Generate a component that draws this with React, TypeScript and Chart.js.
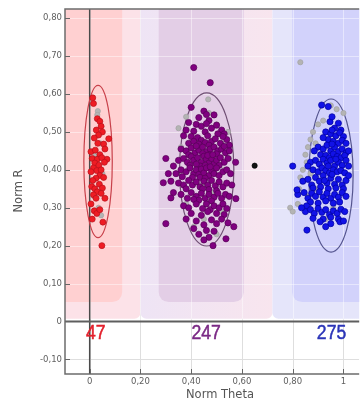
import React, { useEffect, useRef } from 'react';
import { Chart, registerables } from 'chart.js';

Chart.register(...registerables);

// ---------- axis ticks ----------
const xTicks = [0, 0.2, 0.4, 0.6, 0.8, 1];
const yTicks = [-0.1, 0, 0.1, 0.2, 0.3, 0.4, 0.5, 0.6, 0.7, 0.8];

// ---------- clusters ----------
const clusterCounts = [47, 247, 275];
const countX = [0.024, 0.459, 0.953];
const ellipseCX = [0.033, 0.461, 0.951];
const ellipseCY = [0.422, 0.401, 0.385];
const ellipseRX = [0.056, 0.107, 0.087];
const ellipseRY = [0.201, 0.202, 0.202];

const redPoints = [
  [0.012, 0.59], [0.015, 0.575], [0.03, 0.535], [0.04, 0.528], [0.045, 0.515], [0.026, 0.505],
  [0.05, 0.5], [0.035, 0.492], [0.075, 0.482], [0.018, 0.484], [0.032, 0.47], [0.055, 0.468],
  [0.06, 0.455], [0.005, 0.448], [0.022, 0.452], [0.04, 0.44], [0.068, 0.428], [0.01, 0.43],
  [0.03, 0.428], [0.048, 0.432], [0.02, 0.418], [0.036, 0.412], [0.058, 0.42], [0.015, 0.405],
  [0.028, 0.398], [0.045, 0.4], [0.005, 0.395], [0.04, 0.385], [0.025, 0.378], [0.055, 0.38],
  [0.012, 0.372], [0.038, 0.362], [0.008, 0.356], [0.02, 0.35], [0.05, 0.352], [0.03, 0.342],
  [0.045, 0.338], [0.015, 0.334], [0.025, 0.325], [0.06, 0.325], [0.005, 0.31], [0.018, 0.292],
  [0.028, 0.285], [0.04, 0.295], [0.052, 0.262], [0.048, 0.2], [0.01, 0.27],
];

const purplePoints = [
  [0.45, 0.555], [0.43, 0.538], [0.49, 0.545], [0.47, 0.53], [0.4, 0.565],
  [0.39, 0.525], [0.42, 0.52], [0.44, 0.515], [0.46, 0.522], [0.48, 0.51], [0.5, 0.518], [0.52, 0.505],
  [0.53, 0.495], [0.38, 0.505], [0.41, 0.502], [0.455, 0.5], [0.505, 0.495],
  [0.37, 0.49], [0.4, 0.488], [0.425, 0.485], [0.44, 0.478], [0.465, 0.49], [0.48, 0.475], [0.495, 0.482],
  [0.515, 0.47], [0.54, 0.48], [0.55, 0.465], [0.39, 0.47], [0.41, 0.475], [0.455, 0.472], [0.47, 0.465],
  [0.525, 0.488], [0.43, 0.468],
  [0.36, 0.455], [0.38, 0.45], [0.4, 0.458], [0.415, 0.445], [0.43, 0.452], [0.445, 0.46], [0.46, 0.448],
  [0.475, 0.455], [0.49, 0.46], [0.505, 0.45], [0.52, 0.455], [0.535, 0.445], [0.55, 0.45], [0.42, 0.463],
  [0.47, 0.44], [0.5, 0.442], [0.39, 0.44], [0.445, 0.443], [0.53, 0.462],
  [0.35, 0.425], [0.37, 0.43], [0.385, 0.42], [0.4, 0.435], [0.41, 0.425], [0.425, 0.432], [0.44, 0.42],
  [0.45, 0.436], [0.46, 0.428], [0.47, 0.418], [0.48, 0.43], [0.49, 0.415], [0.5, 0.425], [0.515, 0.432],
  [0.53, 0.42], [0.545, 0.43], [0.435, 0.41], [0.455, 0.412], [0.465, 0.438], [0.51, 0.412], [0.42, 0.415],
  [0.395, 0.412], [0.485, 0.44],
  [0.34, 0.39], [0.36, 0.4], [0.38, 0.395], [0.395, 0.405], [0.41, 0.39], [0.42, 0.4], [0.43, 0.388],
  [0.44, 0.402], [0.45, 0.392], [0.46, 0.405], [0.47, 0.385], [0.48, 0.398], [0.49, 0.39], [0.5, 0.405],
  [0.51, 0.385], [0.525, 0.395], [0.54, 0.4], [0.555, 0.39], [0.435, 0.38], [0.455, 0.378], [0.475, 0.408],
  [0.405, 0.38], [0.365, 0.382],
  [0.32, 0.37], [0.35, 0.365], [0.37, 0.36], [0.39, 0.372], [0.405, 0.36], [0.42, 0.368], [0.435, 0.355],
  [0.45, 0.37], [0.465, 0.36], [0.48, 0.372], [0.495, 0.358], [0.51, 0.368], [0.525, 0.355], [0.54, 0.365],
  [0.56, 0.36], [0.445, 0.35], [0.47, 0.348], [0.5, 0.345], [0.38, 0.35],
  [0.33, 0.34], [0.36, 0.335], [0.385, 0.325], [0.4, 0.34], [0.42, 0.33], [0.44, 0.338], [0.455, 0.325],
  [0.47, 0.335], [0.49, 0.328], [0.505, 0.338], [0.52, 0.325], [0.535, 0.335], [0.55, 0.33], [0.576, 0.324],
  [0.43, 0.32], [0.48, 0.318], [0.41, 0.322],
  [0.37, 0.305], [0.39, 0.3], [0.42, 0.31], [0.445, 0.298], [0.46, 0.31], [0.475, 0.295], [0.49, 0.305],
  [0.51, 0.3], [0.525, 0.31], [0.54, 0.298], [0.4, 0.285], [0.44, 0.28], [0.5, 0.285], [0.53, 0.282],
  [0.465, 0.29],
  [0.38, 0.27], [0.42, 0.265], [0.45, 0.255], [0.48, 0.268], [0.5, 0.258], [0.52, 0.27], [0.545, 0.26],
  [0.568, 0.25], [0.41, 0.245], [0.46, 0.24], [0.49, 0.238],
  [0.43, 0.23], [0.47, 0.222], [0.537, 0.218], [0.486, 0.2], [0.45, 0.215],
  [0.41, 0.67], [0.475, 0.63], [0.46, 0.546], [0.3, 0.43], [0.29, 0.366], [0.3, 0.258], [0.32, 0.326],
  [0.33, 0.41], [0.31, 0.39], [0.575, 0.42],
];

const bluePoints = [
  [0.914, 0.571], [0.94, 0.567], [0.947, 0.527], [0.98, 0.523], [0.955, 0.54], [0.965, 0.51], [0.99, 0.505],
  [0.93, 0.5], [0.95, 0.495], [0.97, 0.49], [0.985, 0.498], [1.0, 0.488], [0.94, 0.48], [0.96, 0.475],
  [0.98, 0.47], [0.995, 0.478], [1.01, 0.47], [0.92, 0.485], [0.955, 0.505],
  [0.9, 0.46], [0.92, 0.455], [0.935, 0.465], [0.95, 0.45], [0.965, 0.46], [0.98, 0.448], [0.995, 0.455],
  [1.01, 0.445], [0.91, 0.44], [0.93, 0.438], [0.945, 0.432], [0.96, 0.442], [0.975, 0.435], [0.99, 0.432],
  [1.005, 0.438], [1.02, 0.45], [0.885, 0.45], [0.955, 0.468],
  [0.87, 0.42], [0.89, 0.425], [0.905, 0.415], [0.92, 0.428], [0.935, 0.418], [0.95, 0.425], [0.965, 0.41],
  [0.98, 0.42], [0.995, 0.412], [1.01, 0.425], [1.02, 0.41], [0.88, 0.4], [0.9, 0.395], [0.915, 0.405],
  [0.93, 0.398], [0.945, 0.392], [0.96, 0.4], [0.975, 0.395], [0.99, 0.398], [1.005, 0.392], [0.94, 0.41],
  [0.97, 0.428], [0.86, 0.41],
  [0.84, 0.37], [0.86, 0.375], [0.875, 0.36], [0.89, 0.38], [0.905, 0.37], [0.92, 0.385], [0.935, 0.365],
  [0.95, 0.378], [0.965, 0.362], [0.98, 0.375], [0.995, 0.36], [1.01, 0.372], [1.02, 0.385], [0.88, 0.352],
  [0.91, 0.355], [0.94, 0.35], [0.97, 0.352], [1.0, 0.35], [0.925, 0.372], [0.955, 0.388],
  [0.82, 0.335], [0.845, 0.34], [0.86, 0.325], [0.875, 0.338], [0.89, 0.33], [0.905, 0.342], [0.92, 0.328],
  [0.935, 0.338], [0.95, 0.325], [0.965, 0.335], [0.98, 0.328], [0.995, 0.34], [1.01, 0.33], [0.87, 0.315],
  [0.9, 0.312], [0.93, 0.318], [0.96, 0.312], [0.985, 0.315], [0.855, 0.305],
  [0.85, 0.29], [0.87, 0.295], [0.885, 0.285], [0.9, 0.298], [0.915, 0.288], [0.93, 0.295], [0.945, 0.282],
  [0.96, 0.292], [0.975, 0.285], [0.99, 0.296], [1.005, 0.29], [0.88, 0.272], [0.92, 0.27], [0.95, 0.275],
  [0.98, 0.27],
  [0.856, 0.241], [0.908, 0.263], [0.986, 0.263], [0.95, 0.258], [0.93, 0.25], [1.0, 0.265],
  [0.8, 0.41], [0.817, 0.347], [0.835, 0.3],
];

const greyPoints = [
  [0.032, 0.555], [0.03, 0.545], [0.042, 0.47], [0.025, 0.44], [0.05, 0.39], [0.018, 0.33], [0.045, 0.28],
  [0.035, 0.3],
  [0.467, 0.586], [0.35, 0.51], [0.38, 0.54], [0.5, 0.52], [0.52, 0.47], [0.42, 0.48], [0.4, 0.44],
  [0.53, 0.4], [0.55, 0.43], [0.44, 0.36], [0.49, 0.34], [0.38, 0.31], [0.52, 0.29], [0.45, 0.27],
  [0.41, 0.25], [0.5, 0.23], [0.36, 0.46], [0.47, 0.55], [0.545, 0.5], [0.43, 0.43],
  [0.83, 0.684], [0.85, 0.44], [0.86, 0.46], [0.87, 0.48], [0.88, 0.5], [0.89, 0.47], [0.84, 0.4],
  [0.83, 0.38], [0.825, 0.35], [0.79, 0.3], [0.8, 0.29], [0.82, 0.31], [0.86, 0.33], [0.87, 0.39],
  [0.9, 0.52], [0.95, 0.57], [0.92, 0.53], [0.973, 0.56], [1.0, 0.55], [0.96, 0.3], [0.93, 0.27],
  [0.89, 0.35], [0.855, 0.42],
];

const blackPoints = [[0.65, 0.411]];

const toXY = (pts: number[][]) => pts.map(([x, y]) => ({ x, y }));
const fmt = (v: number) => (Number.isInteger(v) ? String(v) : v.toFixed(2).replace('.', ','));

// ---------- styling ----------
const X_MIN = -0.0973;
const X_MAX = 1.062;
const Y_MIN = -0.1388;
const Y_MAX = 0.8245;
const TICK_FONT = 'DejaVu Sans';

const clusterColors = ['#ee1c24', '#800080', '#1212e6'];
const clusterBorders = ['#b8101a', '#560056', '#0000a0'];
const ellipseColors = ['#c8404a', '#6e4e72', '#55558f'];
const labelColors = ['#e3202c', '#7b2a85', '#2b35b8'];
const coreColors = ['rgb(255,208,209)', 'rgb(227,206,230)', 'rgb(210,210,251)'];
const haloColorsL = ['rgb(252,226,232)', 'rgb(238,228,245)', 'rgb(229,229,250)'];
const haloColorsR = ['rgb(252,226,232)', 'rgb(248,229,238)', 'rgb(229,229,250)'];
const coreLeft = [-0.3, 0.272, 0.798];
const coreRight = [0.128, 0.607, 1.3];
const haloLeft = [-0.3, 0.2, 0.72];
const haloRight = [0.2, 0.72, 1.3];
const CORE_BOTTOM = 0.051;
const HALO_BOTTOM = 0.007;
const COUNT_Y = -0.033;

const decorPlugin = {
  id: 'decor',
  beforeDatasetsDraw(chart: any) {
    const { ctx, chartArea: a, scales } = chart;
    const x = scales.x;
    const y = scales.y;
    ctx.save();
    ctx.beginPath();
    ctx.rect(a.left, a.top, a.right - a.left, a.bottom - a.top);
    ctx.clip();
    // light grey grid (visible in white area)
    ctx.strokeStyle = '#dedede';
    ctx.lineWidth = 1;
    xTicks.forEach((v) => {
      const px = Math.round(x.getPixelForValue(v)) + 0.5;
      ctx.beginPath(); ctx.moveTo(px, a.top); ctx.lineTo(px, a.bottom); ctx.stroke();
    });
    yTicks.forEach((v) => {
      const py = Math.round(y.getPixelForValue(v)) + 0.5;
      ctx.beginPath(); ctx.moveTo(a.left, py); ctx.lineTo(a.right, py); ctx.stroke();
    });
    // regions
    const topPx = a.top - 20;
    for (let i = 0; i < 3; i++) {
      const l = x.getPixelForValue(haloLeft[i]);
      const r = x.getPixelForValue(haloRight[i]);
      const b = y.getPixelForValue(HALO_BOTTOM);
      const g = ctx.createLinearGradient(l, 0, r, 0);
      g.addColorStop(0, haloColorsL[i]);
      g.addColorStop(1, haloColorsR[i]);
      ctx.fillStyle = g;
      ctx.beginPath();
      ctx.roundRect(l, topPx, r - l, b - topPx, [0, 0, 6, 6]);
      ctx.fill();
    }
    for (let i = 0; i < 3; i++) {
      const l = x.getPixelForValue(coreLeft[i]);
      const r = x.getPixelForValue(coreRight[i]);
      const b = y.getPixelForValue(CORE_BOTTOM);
      ctx.fillStyle = coreColors[i];
      ctx.beginPath();
      ctx.roundRect(l, topPx, r - l, b - topPx, [0, 0, 10, 10]);
      ctx.fill();
    }
    // whitish grid over regions
    const zeroPx = y.getPixelForValue(0);
    ctx.strokeStyle = 'rgba(255,255,255,0.45)';
    xTicks.forEach((v) => {
      const px = Math.round(x.getPixelForValue(v)) + 0.5;
      ctx.beginPath(); ctx.moveTo(px, a.top); ctx.lineTo(px, zeroPx); ctx.stroke();
    });
    yTicks.forEach((v) => {
      if (v <= 0) return;
      const py = Math.round(y.getPixelForValue(v)) + 0.5;
      ctx.beginPath(); ctx.moveTo(a.left, py); ctx.lineTo(a.right, py); ctx.stroke();
    });
    // x = 0 line
    const x0 = x.getPixelForValue(0);
    ctx.strokeStyle = '#4a4a4a';
    ctx.lineWidth = 1.5;
    ctx.beginPath(); ctx.moveTo(x0, a.top); ctx.lineTo(x0, a.bottom); ctx.stroke();
    // ellipses
    ctx.lineWidth = 1.2;
    for (let i = 0; i < 3; i++) {
      const cx = x.getPixelForValue(ellipseCX[i]);
      const cy = y.getPixelForValue(ellipseCY[i]);
      const rx = Math.abs(x.getPixelForValue(ellipseCX[i] + ellipseRX[i]) - cx);
      const ry = Math.abs(y.getPixelForValue(ellipseCY[i] + ellipseRY[i]) - cy);
      ctx.strokeStyle = ellipseColors[i];
      ctx.beginPath();
      ctx.ellipse(cx, cy, rx, ry, 0, 0, Math.PI * 2);
      ctx.stroke();
    }
    ctx.restore();
  },
  afterDatasetsDraw(chart: any) {
    const { ctx, chartArea: a, scales } = chart;
    const x = scales.x;
    const y = scales.y;
    ctx.save();
    // zero line
    const zeroPx = y.getPixelForValue(0);
    ctx.strokeStyle = '#5e5e5e';
    ctx.lineWidth = 2;
    ctx.beginPath(); ctx.moveTo(a.left, zeroPx); ctx.lineTo(a.right, zeroPx); ctx.stroke();
    // frame: top, left, bottom
    ctx.strokeStyle = '#6c6c6c';
    ctx.lineWidth = 1.5;
    ctx.beginPath();
    ctx.moveTo(a.right, a.top); ctx.lineTo(a.left, a.top); ctx.lineTo(a.left, a.bottom); ctx.lineTo(a.right, a.bottom);
    ctx.stroke();
    // inner tick marks
    ctx.strokeStyle = '#666';
    ctx.lineWidth = 1;
    yTicks.forEach((v) => {
      const py = Math.round(y.getPixelForValue(v)) + 0.5;
      ctx.beginPath(); ctx.moveTo(a.left, py); ctx.lineTo(a.left + 5, py); ctx.stroke();
    });
    xTicks.forEach((v) => {
      const px = Math.round(x.getPixelForValue(v)) + 0.5;
      ctx.beginPath(); ctx.moveTo(px, a.bottom); ctx.lineTo(px, a.bottom - 5); ctx.stroke();
    });
    // counts
    ctx.font = '20px "Liberation Sans"';
    ctx.textAlign = 'center';
    ctx.textBaseline = 'middle';
    for (let i = 0; i < 3; i++) {
      ctx.save();
      ctx.translate(x.getPixelForValue(countX[i]), y.getPixelForValue(COUNT_Y));
      ctx.scale(0.88, 1);
      ctx.fillStyle = labelColors[i];
      ctx.strokeStyle = labelColors[i];
      ctx.lineWidth = 0.5;
      ctx.fillText(String(clusterCounts[i]), 0, 0);
      ctx.strokeText(String(clusterCounts[i]), 0, 0);
      ctx.restore();
    }
    // axis titles
    ctx.fillStyle = '#555';
    ctx.font = '11.5px "DejaVu Sans"';
    ctx.fillText('Norm Theta', 220, 395);
    ctx.save();
    ctx.translate(19, 191);
    ctx.rotate(-Math.PI / 2);
    ctx.fillText('Norm R', 0, 0);
    ctx.restore();
    ctx.restore();
  },
};

export default function App() {
  const ref = useRef<HTMLCanvasElement>(null);
  useEffect(() => {
    if (!ref.current) return;
    const pointDs = (label: string, pts: number[][], bg: string, border: string, r: number) => ({
      label,
      data: toXY(pts),
      backgroundColor: bg,
      borderColor: border,
      borderWidth: 0.7,
      pointRadius: r,
      pointHoverRadius: r,
    });
    const chart = new Chart(ref.current, {
      type: 'scatter',
      data: {
        datasets: [
          pointDs('black', blackPoints, '#111111', '#000000', 2.6),
          pointDs('red', redPoints, clusterColors[0], clusterBorders[0], 3),
          pointDs('purple', purplePoints, clusterColors[1], clusterBorders[1], 3.1),
          pointDs('blue', bluePoints, clusterColors[2], clusterBorders[2], 3.1),
          pointDs('grey', greyPoints, '#b4b4b4', '#a2a2a2', 2.6),
        ],
      },
      options: {
        responsive: false,
        animation: false,
        layout: { padding: { top: 9, left: 0, right: 0, bottom: 0 } },
        plugins: { legend: { display: false }, tooltip: { enabled: false }, title: { display: false } },
        scales: {
          x: {
            type: 'linear',
            min: X_MIN,
            max: X_MAX,
            afterFit: (s: any) => { s.height = 30; },
            afterBuildTicks: (s: any) => { s.ticks = xTicks.map((v) => ({ value: v })); },
            grid: { display: false, drawTicks: false },
            border: { display: false },
            ticks: {
              callback: (v: any) => fmt(Number(v)),
              font: { family: TICK_FONT, size: 8.5 },
              color: '#606060',
              padding: 3,
              maxRotation: 0,
              autoSkip: false,
            },
          },
          y: {
            type: 'linear',
            min: Y_MIN,
            max: Y_MAX,
            afterFit: (s: any) => { s.width = 65; },
            afterBuildTicks: (s: any) => { s.ticks = yTicks.map((v) => ({ value: v })); },
            grid: { display: false, drawTicks: false },
            border: { display: false },
            ticks: {
              callback: (v: any) => fmt(Number(v)),
              font: { family: TICK_FONT, size: 8.5 },
              color: '#606060',
              padding: 3,
              autoSkip: false,
            },
          },
        },
      },
      plugins: [decorPlugin],
    } as any);
    return () => chart.destroy();
  }, []);
  return (
    <div style={{ position: 'fixed', left: 0, top: 0, width: 363, height: 404, background: '#fff' }}>
      <canvas ref={ref} width={363} height={404} style={{ display: 'block' }} />
    </div>
  );
}
